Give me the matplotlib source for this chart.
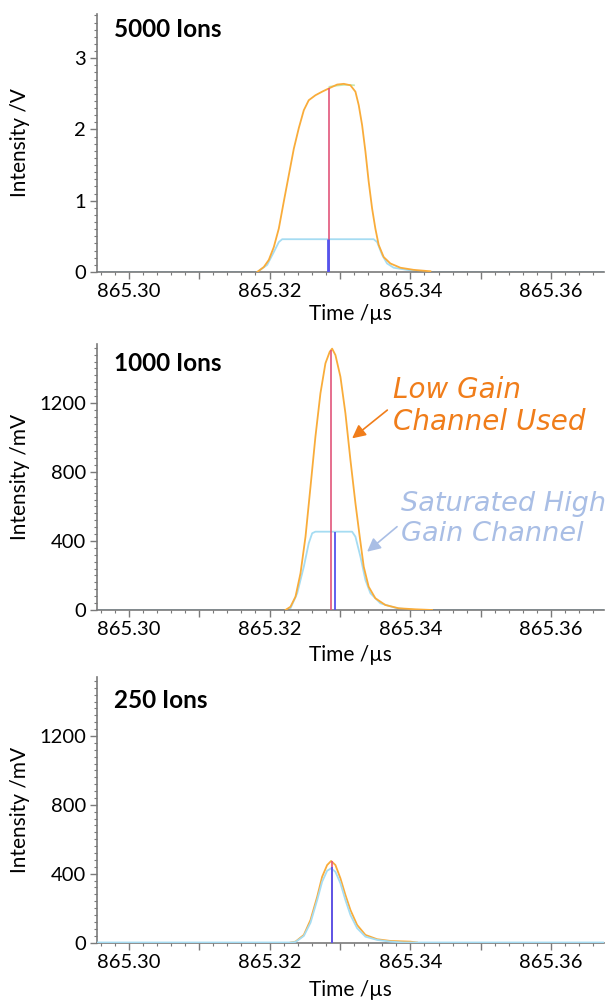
import matplotlib
matplotlib.use("Agg")
import matplotlib.pyplot as plt
from matplotlib.ticker import MultipleLocator

# --- 5000 ions, intensity in V ---
t_low_5000 = [865.31826, 865.31919, 865.31990, 865.32061, 865.32132, 865.32203, 865.32274, 865.32345,
              865.32416, 865.32487, 865.32557, 865.32652, 865.32747, 865.32851, 865.32960, 865.33054,
              865.33149, 865.33220, 865.33267, 865.33315, 865.33362, 865.33408, 865.33457, 865.33503,
              865.33550, 865.33621, 865.33716, 865.33858, 865.34047, 865.34284]
v_low_5000 = [0.0, 0.07, 0.17, 0.35, 0.61, 0.99, 1.36, 1.73,
              2.02, 2.27, 2.41, 2.48, 2.53, 2.58, 2.63, 2.64,
              2.62, 2.53, 2.34, 2.06, 1.69, 1.27, 0.89, 0.61,
              0.38, 0.21, 0.12, 0.06, 0.03, 0.01]
t_sum_5000 = [865.32851, 865.32960, 865.33054, 865.33149, 865.33200]
v_sum_5000 = [2.60, 2.615, 2.625, 2.625, 2.62]
t_high_5000 = [865.2955, 865.31826, 865.31967, 865.32061, 865.32132, 865.32180, 865.33479, 865.33528,
               865.33599, 865.33669, 865.33763, 865.33953, 865.34184, 865.3675]
v_high_5000 = [0.0, 0.0, 0.10, 0.28, 0.42, 0.46, 0.46, 0.42,
               0.24, 0.12, 0.06, 0.03, 0.0, 0.0]
t_red_5000, h_red_5000 = 865.32851, 2.58
t_blue_5000, h_blue_5000 = 865.32830, 0.46

# --- 1000 ions, intensity in mV ---
t_low_1000 = [865.32227, 865.32298, 865.32369, 865.32440, 865.32511, 865.32582, 865.32652, 865.32723,
              865.32794, 865.32855, 865.32889, 865.32936, 865.33007, 865.33078, 865.33149, 865.33220,
              865.33281, 865.33338, 865.33408, 865.33503, 865.33645, 865.33834, 865.34071, 865.34308]
v_low_1000 = [0, 19, 77, 213, 425, 715, 1005, 1256,
              1430, 1497, 1515, 1478, 1352, 1140, 870, 619,
              425, 251, 135, 68, 29, 10, 4, 0]
t_high_1000 = [865.2955, 865.32227, 865.32298, 865.32393, 865.32487, 865.32557, 865.32606, 865.32652,
               865.33173, 865.33220, 865.33291, 865.33362, 865.33433, 865.33574, 865.33811, 865.34071,
               865.3675]
v_high_1000 = [0, 0, 10, 97, 251, 387, 445, 454,
               454, 425, 309, 174, 97, 39, 10, 0,
               0]
t_red_1000, h_red_1000 = 865.32875, 1507
t_blue_1000, h_blue_1000 = 865.32926, 454

# --- 250 ions, intensity in mV ---
t_low_250 = [865.32300, 865.32369, 865.32487, 865.32582, 865.32677, 865.32747, 865.32818, 865.32875,
             865.32936, 865.33007, 865.33078, 865.33149, 865.33244, 865.33362, 865.33528, 865.33716,
             865.34000, 865.34095]
v_low_250 = [0, 5, 44, 131, 266, 382, 450, 474,
             450, 373, 276, 189, 102, 44, 19, 9,
             5, 0]
t_high_250 = [865.2955, 865.32300, 865.32369, 865.32487, 865.32582, 865.32677, 865.32747, 865.32818,
              865.32875, 865.32936, 865.33007, 865.33078, 865.33149, 865.33244, 865.33362, 865.33528,
              865.33716, 865.33905, 865.3675]
v_high_250 = [0, 0, 3, 38, 115, 247, 353, 417,
              431, 411, 344, 247, 160, 83, 34, 15,
              5, 0, 0]
t_red_250, h_red_250 = 865.32885, 474
t_blue_250, h_blue_250 = 865.32889, 440

titles = ["5000 Ions", "1000 Ions", "250 Ions"]
ylabels = ["Intensity /V", "Intensity /mV", "Intensity /mV"]
xticks = [865.30, 865.31, 865.32, 865.33, 865.34, 865.35, 865.36]
xticklabels = ["865.30", "", "865.32", "", "865.34", "", "865.36"]

ORANGE = "#f9ac3a"
LIGHTBLUE = "#a5dcf2"
GREEN = "#c4e8b0"
RED = "#e2557a"
BLUE = "#5454ee"
AXCOL = "#7a7a7a"
NOTE_ORANGE = "#f07d1a"
NOTE_BLUE = "#a9bee5"

plt.rcParams["font.family"] = ["Lato", "DejaVu Sans"]

fig = plt.figure(figsize=(6.06, 10.02), dpi=100)

# axes boxes in pixels: left, top, right, bottom
boxes = [(97, 14, 604, 272), (97, 344, 604, 610), (97, 677, 604, 942.5)]
title_y = [0.938, 0.925, 0.913]
xlabel_pad = [3, 5, 7]


def make_ax(box):
    l, t, r, b = box
    return fig.add_axes([l / 606, 1 - b / 1002, (r - l) / 606, (b - t) / 1002])


def style_ax(ax, ymax, yticks, yminor, i):
    ax.set_xlim(865.2955, 865.3675)
    ax.set_ylim(0, ymax)
    for s in ["top", "right"]:
        ax.spines[s].set_visible(False)
    for s in ["left", "bottom"]:
        ax.spines[s].set_color(AXCOL)
        ax.spines[s].set_linewidth(1.2)
    ax.set_xticks(xticks)
    ax.set_xticklabels(xticklabels)
    ax.xaxis.set_minor_locator(MultipleLocator(0.002))
    ax.set_yticks(yticks)
    ax.yaxis.set_minor_locator(MultipleLocator(yminor))
    ax.tick_params(which="major", length=5, width=1, color=AXCOL, labelsize=14.5, pad=3)
    ax.tick_params(which="minor", length=2.5, width=0.8, color=AXCOL)
    ax.set_xlabel("Time /µs", fontsize=15, labelpad=xlabel_pad[i])
    ax.set_ylabel(ylabels[i], fontsize=15, va="center")
    ax.yaxis.set_label_coords(-0.152, 0.5)
    ax.text(0.034, title_y[i], titles[i], transform=ax.transAxes, fontsize=17.5,
            fontweight="bold", va="center", ha="left")


ax1 = make_ax(boxes[0])
ax1.plot(t_sum_5000, v_sum_5000, color=GREEN, lw=1.2, zorder=2)
ax1.plot(t_high_5000, v_high_5000, color=LIGHTBLUE, lw=1.3, zorder=2)
ax1.plot(t_low_5000, v_low_5000, color=ORANGE, lw=1.3, zorder=3)
ax1.vlines(t_red_5000, 0, h_red_5000, color=RED, lw=1.2, zorder=4)
ax1.vlines(t_blue_5000, 0, h_blue_5000, color=BLUE, lw=2, zorder=5)
style_ax(ax1, 3.62, [0, 1, 2, 3], 0.1, 0)

ax2 = make_ax(boxes[1])
ax2.plot(t_high_1000, v_high_1000, color=LIGHTBLUE, lw=1.3, zorder=2)
ax2.plot(t_low_1000, v_low_1000, color=ORANGE, lw=1.3, zorder=3)
ax2.vlines(t_red_1000, 0, h_red_1000, color=RED, lw=1.2, zorder=4)
ax2.vlines(t_blue_1000, 0, h_blue_1000, color=BLUE, lw=1.3, zorder=5)
style_ax(ax2, 1542, [0, 400, 800, 1200], 40, 1)

ax2.text(865.3376, 1183, "Low Gain\nChannel Used", fontsize=20, style="italic",
         color=NOTE_ORANGE, family="DejaVu Sans", ha="left", va="center")
ax2.annotate("", xy=(865.33173, 995), xytext=(865.33673, 1159),
             arrowprops=dict(arrowstyle="-|>", color=NOTE_ORANGE, lw=1.2,
                             mutation_scale=20, shrinkA=0, shrinkB=0))
ax2.text(865.3387, 528, "Saturated High\nGain Channel", fontsize=19.5, style="italic",
         color=NOTE_BLUE, family="DejaVu Sans", ha="left", va="center")
ax2.annotate("", xy=(865.33386, 338), xytext=(865.33811, 483),
             arrowprops=dict(arrowstyle="-|>", color=NOTE_BLUE, lw=1.2,
                             mutation_scale=20, shrinkA=0, shrinkB=0))

ax3 = make_ax(boxes[2])
ax3.plot(t_high_250, v_high_250, color=LIGHTBLUE, lw=1.3, zorder=3)
ax3.plot(t_low_250, v_low_250, color=ORANGE, lw=1.3, zorder=2)
ax3.vlines(t_red_250, 0, h_red_250, color=RED, lw=1.2, zorder=4)
ax3.vlines(t_blue_250, 0, h_blue_250, color=BLUE, lw=1.3, zorder=5)
style_ax(ax3, 1543, [0, 400, 800, 1200], 40, 2)

fig.savefig("out.png", dpi=100)
